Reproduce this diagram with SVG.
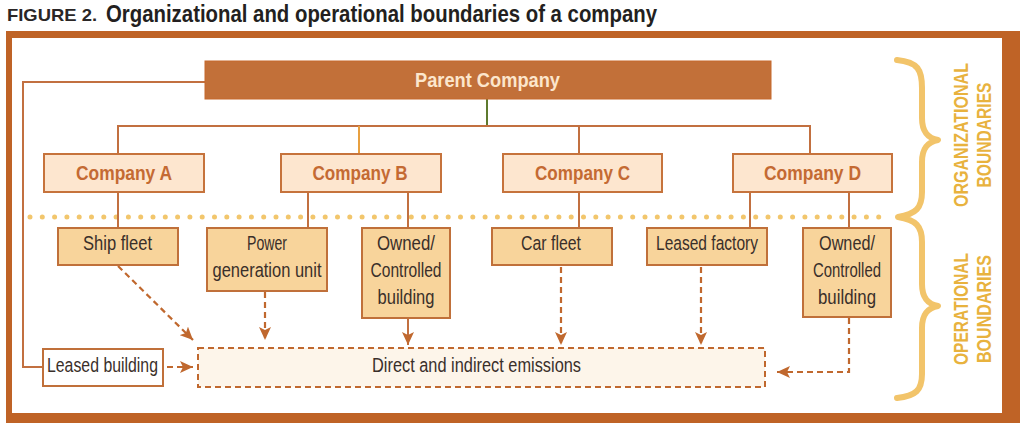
<svg xmlns="http://www.w3.org/2000/svg" width="1024" height="428" viewBox="0 0 1024 428">
<style>
text{font-family:"Liberation Sans",Arial,sans-serif}
.co{fill:#fde6cf;stroke:#c6733c;stroke-width:2}
.cot{font-size:20px;font-weight:bold;fill:#c46a33}
.op{fill:#f8d49b;stroke:#c0703a;stroke-width:2}
.opt{font-size:20.5px;fill:#3a2f2a}
.ln{fill:none;stroke:#c27040;stroke-width:2}
.dash{fill:none;stroke:#c0682e;stroke-width:2.2;stroke-dasharray:6 4}
.vt{font-size:19.5px;font-weight:bold;fill:#e8b23e}
</style>
<defs>
<marker id="ah" markerUnits="userSpaceOnUse" markerWidth="14" markerHeight="12" refX="13" refY="6" orient="auto">
<path d="M0,0 L13,6 L0,12 L3,6 z" fill="#c0682e"/>
</marker>
</defs>
<rect width="1024" height="428" fill="#ffffff"/>
<g id="title">
<text x="7" y="21" font-size="17" font-weight="bold" fill="#2a2626" textLength="90" lengthAdjust="spacingAndGlyphs">FIGURE 2.</text>
<text x="106" y="22" font-size="24" font-weight="bold" fill="#231f20" textLength="551" lengthAdjust="spacingAndGlyphs">Organizational and operational boundaries of a company</text>
</g>
<g id="frame">
<rect x="6" y="31" width="1014" height="392" fill="#bf6326"/>
<rect x="12" y="38" width="990" height="375" fill="#ffffff"/>
</g>
<g id="boundaries">
<path d="M30,217 L890,217" fill="none" stroke="#f2c66c" stroke-width="5" stroke-linecap="round" stroke-dasharray="0 12.3"/>
<path d="M897,60 C918,62 922,70 922,88 L922,118 C922,132 928,138 938,140 C928,142 922,148 922,162 L922,192 C922,208 916,214 898,217 C916,220 922,226 922,242 L922,284 C922,298 928,304 938,306 C928,308 922,314 922,328 L922,374 C922,390 916,396 897,398" fill="none" stroke="#f2c46a" stroke-width="6" stroke-linecap="round" stroke-linejoin="round"/>
<text class="vt" transform="translate(968,135) rotate(-90)" text-anchor="middle" textLength="144" lengthAdjust="spacingAndGlyphs">ORGANIZATIONAL</text>
<text class="vt" transform="translate(991,135) rotate(-90)" text-anchor="middle" textLength="105" lengthAdjust="spacingAndGlyphs">BOUNDARIES</text>
<text class="vt" transform="translate(968,309) rotate(-90)" text-anchor="middle" textLength="112" lengthAdjust="spacingAndGlyphs">OPERATIONAL</text>
<text class="vt" transform="translate(991,309) rotate(-90)" text-anchor="middle" textLength="108" lengthAdjust="spacingAndGlyphs">BOUNDARIES</text>
</g>
<g id="connectors">
<path class="ln" d="M205,82 H23 V367 H43"/>
<path d="M487,99 V126" fill="none" stroke="#5e7a2e" stroke-width="2"/>
<path class="ln" d="M118,153 V126 H810 V153"/>
<path d="M359,126 V153" fill="none" stroke="#e8a040" stroke-width="2"/>
<path class="ln" d="M579,126 V153"/>
<path class="ln" d="M118,192 V228 M308,192 V228 M408,192 V228 M579,192 V228 M750,192 V228 M849,192 V228"/>
<path class="dash" d="M118,266 L193,340" marker-end="url(#ah)"/>
<path class="dash" d="M265,292 V340" marker-end="url(#ah)"/>
<path class="ln" d="M408,319 V345" stroke="#c0682e" marker-end="url(#ah)"/>
<path class="dash" d="M561,267 V345" marker-end="url(#ah)"/>
<path class="dash" d="M701,267 V345" marker-end="url(#ah)"/>
<path class="dash" d="M849,318 V372 H777" marker-end="url(#ah)"/>
<path class="dash" d="M167,367 H193" marker-end="url(#ah)"/>
</g>
<g id="parent">
<rect x="205" y="61" width="566" height="38" fill="#c27039" stroke="#c6682c" stroke-width="1"/>
<text x="487.5" y="87" text-anchor="middle" font-size="19.5" font-weight="bold" fill="#fce6cc" textLength="145" lengthAdjust="spacingAndGlyphs">Parent Company</text>
</g>
<g id="companyA">
<rect class="co" x="44" y="154" width="160" height="38"/>
<text class="cot" x="124" y="180" text-anchor="middle" textLength="96" lengthAdjust="spacingAndGlyphs">Company A</text>
</g>
<g id="companyB">
<rect class="co" x="281" y="154" width="160" height="38"/>
<text class="cot" x="360" y="180" text-anchor="middle" textLength="95" lengthAdjust="spacingAndGlyphs">Company B</text>
</g>
<g id="companyC">
<rect class="co" x="503" y="154" width="159" height="38"/>
<text class="cot" x="582.5" y="180" text-anchor="middle" textLength="95" lengthAdjust="spacingAndGlyphs">Company C</text>
</g>
<g id="companyD">
<rect class="co" x="733" y="154" width="159" height="38"/>
<text class="cot" x="812.5" y="180" text-anchor="middle" textLength="97" lengthAdjust="spacingAndGlyphs">Company D</text>
</g>
<g id="shipFleet">
<rect class="op" x="58" y="228" width="120" height="37"/>
<text class="opt" x="117.5" y="250" text-anchor="middle" textLength="69" lengthAdjust="spacingAndGlyphs">Ship fleet</text>
</g>
<g id="powerUnit">
<rect class="op" x="207" y="228" width="120" height="63"/>
<text class="opt" x="267" y="250" text-anchor="middle" textLength="40" lengthAdjust="spacingAndGlyphs">Power</text>
<text class="opt" x="267" y="277" text-anchor="middle" textLength="109" lengthAdjust="spacingAndGlyphs">generation unit</text>
</g>
<g id="ownedB">
<rect class="op" x="362" y="228" width="88" height="90"/>
<text class="opt" x="406" y="250" text-anchor="middle" textLength="58" lengthAdjust="spacingAndGlyphs">Owned/</text>
<text class="opt" x="406" y="277" text-anchor="middle" textLength="71" lengthAdjust="spacingAndGlyphs">Controlled</text>
<text class="opt" x="406" y="304" text-anchor="middle" textLength="57" lengthAdjust="spacingAndGlyphs">building</text>
</g>
<g id="carFleet">
<rect class="op" x="492" y="228" width="120" height="37"/>
<text class="opt" x="551" y="250" text-anchor="middle" textLength="60" lengthAdjust="spacingAndGlyphs">Car fleet</text>
</g>
<g id="leasedFactory">
<rect class="op" x="647" y="228" width="120" height="37"/>
<text class="opt" x="707" y="250" text-anchor="middle" textLength="102" lengthAdjust="spacingAndGlyphs">Leased factory</text>
</g>
<g id="ownedD">
<rect class="op" x="803" y="228" width="88" height="89"/>
<text class="opt" x="847" y="250" text-anchor="middle" textLength="56" lengthAdjust="spacingAndGlyphs">Owned/</text>
<text class="opt" x="847" y="277" text-anchor="middle" textLength="68" lengthAdjust="spacingAndGlyphs">Controlled</text>
<text class="opt" x="847" y="304" text-anchor="middle" textLength="58" lengthAdjust="spacingAndGlyphs">building</text>
</g>
<g id="leasedBuilding">
<rect x="43" y="349" width="120" height="37" fill="#ffffff" stroke="#c0703a" stroke-width="2"/>
<text class="opt" x="102.5" y="372" text-anchor="middle" textLength="111" lengthAdjust="spacingAndGlyphs">Leased building</text>
</g>
<g id="emissions">
<rect x="198" y="348" width="567" height="39" fill="#fdf5ea" stroke="#c0682e" stroke-width="2" stroke-dasharray="6 4"/>
<text class="opt" x="476.5" y="372" text-anchor="middle" textLength="209" lengthAdjust="spacingAndGlyphs">Direct and indirect emissions</text>
</g>
</svg>
